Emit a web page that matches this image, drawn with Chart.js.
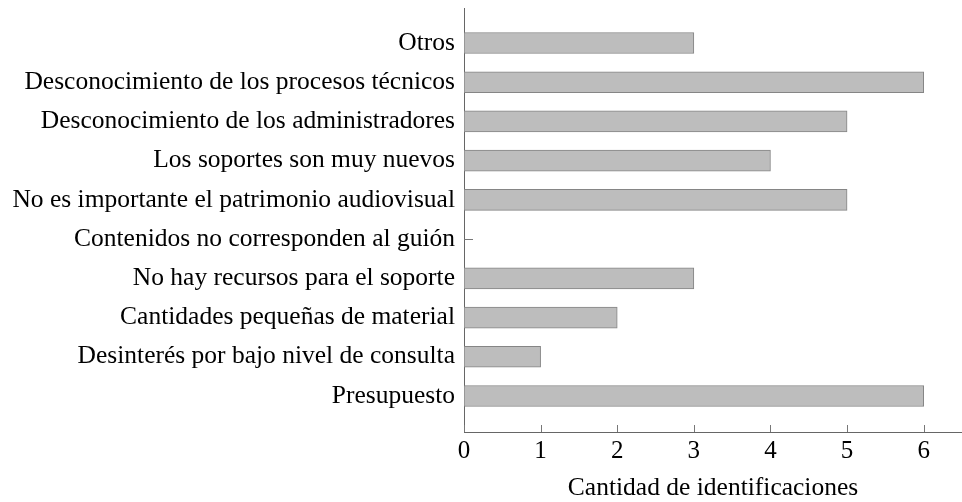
<!DOCTYPE html>
<html>
<head>
<meta charset="utf-8">
<script src="https://cdn.jsdelivr.net/npm/chart.js@4"></script>
<style>
  html, body { margin: 0; padding: 0; background: #fff; }
  #wrap { width: 962px; height: 502px; }
</style>
</head>
<body>
<div id="wrap"><canvas id="myChart"></canvas></div>
<script>
const categories = [
  "Otros",
  "Desconocimiento de los procesos técnicos",
  "Desconocimiento de los administradores",
  "Los soportes son muy nuevos",
  "No es importante el patrimonio audiovisual",
  "Contenidos no corresponden al guión",
  "No hay recursos para el soporte",
  "Cantidades pequeñas de material",
  "Desinterés por bajo nivel de consulta",
  "Presupuesto",
];
const counts = [3, 6, 5, 4, 5, 0, 3, 2, 1, 6];
const xTicks = [0, 1, 2, 3, 4, 5, 6];
const xTitle = "Cantidad de identificaciones";

const fontFamily = "'Liberation Serif', 'DejaVu Serif', serif";

// inward tick marks on the x axis + the little stub pgfplots draws for a zero bar
const innerTicks = {
  id: "innerTicks",
  afterDraw: chart => {
    const { ctx, chartArea, scales } = chart;
    ctx.save();
    ctx.strokeStyle = "#777";
    ctx.lineWidth = 1;
    xTicks.forEach(v => {
      const px = Math.round(scales.x.getPixelForValue(v)) + 0.5;
      ctx.beginPath();
      ctx.moveTo(px, chartArea.bottom);
      ctx.lineTo(px, chartArea.bottom - 7);
      ctx.stroke();
    });
    counts.forEach((c, i) => {
      if (c !== 0) return;
      const py = Math.round(scales.y.getPixelForValue(i)) + 0.5;
      const x0 = scales.x.getPixelForValue(0);
      ctx.beginPath();
      ctx.moveTo(x0, py);
      ctx.lineTo(x0 + 9, py);
      ctx.stroke();
    });
    ctx.restore();
  },
};

const ctx = document.querySelector("#myChart");

let opts = {
  type: "bar",
  data: {
    datasets: [
      {
        data: counts.map((c, i) => ({ x: c, y: i })),
        backgroundColor: "#bdbdbd",
        borderColor: "#858585",
        borderWidth: 1,
        borderSkipped: false,
        barThickness: 21,
      },
    ],
  },
  options: {
    indexAxis: "y",
    responsive: true,
    maintainAspectRatio: false,
    animation: false,
    scales: {
      x: {
        type: "linear",
        min: 0,
        max: 6.5,
        afterBuildTicks: axis => {
          axis.ticks = xTicks.map(v => ({ value: v }));
        },
        afterFit: axis => {
          axis.height = 70;
          axis.paddingLeft = 0;
          axis.paddingRight = 0;
        },
        grid: { display: false },
        border: { display: true, color: "#666", width: 1 },
        ticks: {
          color: "#000",
          padding: -4,
          maxRotation: 0,
          font: { family: fontFamily, size: 25 },
        },
        title: {
          display: true,
          text: xTitle,
          color: "#000",
          padding: { top: 0, bottom: -2 },
          font: { family: fontFamily, size: 25.5 },
        },
      },
      y: {
        type: "linear",
        reverse: true,
        offset: false,
        bounds: "data",
        min: -0.892,
        max: 9.918,
        afterBuildTicks: axis => {
          axis.ticks = categories.map((c, i) => ({ value: i }));
        },
        afterFit: axis => {
          axis.width = 464;
          axis.paddingTop = 0;
          axis.paddingBottom = 0;
        },
        grid: { display: false, offset: false, drawTicks: false },
        border: { display: true, color: "#666", width: 1 },
        ticks: {
          color: "#000",
          padding: 9,
          autoSkip: false,
          font: { family: fontFamily, size: 25.5 },
          callback: v => categories[v] ?? "",
        },
      },
    },
    plugins: {
      legend: { display: false },
      tooltip: { enabled: false },
    },
    layout: {
      padding: { top: 8, right: 0, left: 0, bottom: 0 },
    },
  },
  plugins: [innerTicks],
};

const myChart = new Chart(ctx, opts);
</script>
</body>
</html>
